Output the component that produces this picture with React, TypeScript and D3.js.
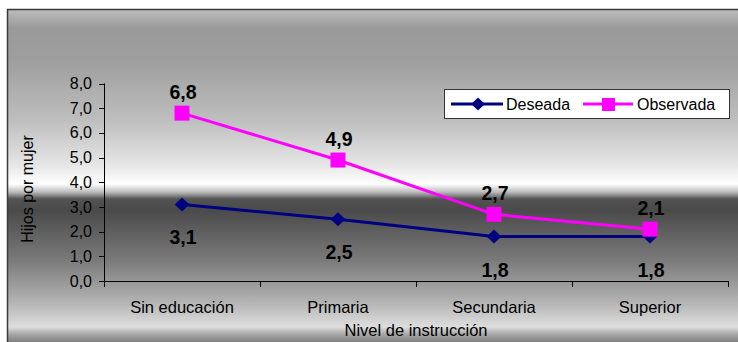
import React from "react";
import * as d3 from "d3";

const categories = ["Sin educación", "Primaria", "Secundaria", "Superior"];
const deseada = [3.1, 2.5, 1.8, 1.8];
const observada = [6.8, 4.9, 2.7, 2.1];
const yTicks = [0, 1, 2, 3, 4, 5, 6, 7, 8];

const W = 738;
const H = 342;
const FONT = "Arial, 'Liberation Sans', sans-serif";

// vertical metallic background: [offset in px from top of page, color]
const bgStops: [number, string][] = [
  [10, "#bcbcbc"],
  [28, "#9a9a9a"],
  [60, "#9e9e9e"],
  [120, "#bebebe"],
  [165, "#e6e6e6"],
  [184, "#ffffff"],
  [192, "#bcbcbc"],
  [199, "#535353"],
  [210, "#4a4a4a"],
  [260, "#7a7a7a"],
  [300, "#b0b0b0"],
  [327, "#dedede"],
  [334, "#a8a8a8"],
  [342, "#808080"],
];

export default function App() {
  const x = d3.scaleBand<string>().domain(categories).range([104, 728]);
  const y = d3.scaleLinear().domain([0, 8]).range([281, 83.5]);
  const cx = (c: string) => (x(c) as number) + x.bandwidth() / 2;

  const line = d3
    .line<number>()
    .x((_, i) => cx(categories[i]))
    .y((d) => y(d));

  const fmt = (v: number) => v.toFixed(1).replace(".", ",");
  const bgTop = 10;
  const bgH = H - bgTop;

  const diamond = (px: number, py: number, s: number) =>
    `M${px},${py - s}L${px + s * 1.05},${py}L${px},${py + s}L${px - s * 1.05},${py}Z`;

  return (
    <svg
      width={W}
      height={H}
      style={{ position: "absolute", left: 0, top: 0, display: "block" }}
      fontFamily={FONT}
    >
      <defs>
        <linearGradient id="bg" x1="0" y1="0" x2="0" y2="1">
          {bgStops.map(([p, c], i) => (
            <stop key={i} offset={(p - bgTop) / bgH} stopColor={c} />
          ))}
        </linearGradient>
      </defs>
      <rect x={0} y={0} width={W} height={H} fill="#ffffff" />
      <rect x={7} y={bgTop} width={W - 7} height={bgH} fill="url(#bg)" />
      <line x1={7} x2={W} y1={9.5} y2={9.5} stroke="#3a3a3a" strokeWidth={1.5} />
      <line x1={7.5} x2={7.5} y1={9} y2={H} stroke="#3a3a3a" strokeWidth={1.5} />

      {/* y axis */}
      <line x1={104.5} x2={104.5} y1={y(8)} y2={y(0)} stroke="#000" />
      {yTicks.map((t) => (
        <g key={t}>
          <line x1={99} x2={104.5} y1={Math.round(y(t)) + 0.5} y2={Math.round(y(t)) + 0.5} stroke="#000" />
          <text x={92} y={y(t)} dy="0.35em" textAnchor="end" fontSize={16} fill="#000">
            {fmt(t)}
          </text>
        </g>
      ))}
      <text
        transform={`translate(33,189) rotate(-90)`}
        textAnchor="middle"
        fontSize={16}
        fill="#000"
      >
        Hijos por mujer
      </text>

      {/* x axis */}
      <line x1={104} x2={728} y1={Math.round(y(0)) + 0.5} y2={Math.round(y(0)) + 0.5} stroke="#000" />
      {[...categories.map((c) => x(c) as number), 728].map((t, i) => (
        <line key={i} x1={t + 0.5} x2={t + 0.5} y1={y(0)} y2={y(0) + 6} stroke="#000" />
      ))}
      {categories.map((c) => (
        <text key={c} x={cx(c)} y={313} textAnchor="middle" fontSize={16.5} fill="#000">
          {c}
        </text>
      ))}
      <text x={416} y={336} textAnchor="middle" fontSize={16.5} fill="#000">
        Nivel de instrucción
      </text>

      {/* series */}
      <path d={line(deseada) as string} fill="none" stroke="#000080" strokeWidth={3} />
      <path d={line(observada) as string} fill="none" stroke="#ff00ff" strokeWidth={3} />
      {deseada.map((v, i) => (
        <path key={i} d={diamond(cx(categories[i]), y(v), 7)} fill="#000080" />
      ))}
      {observada.map((v, i) => (
        <rect
          key={i}
          x={cx(categories[i]) - 7.5}
          y={y(v) - 7.5}
          width={15}
          height={15}
          fill="#ff00ff"
        />
      ))}

      {/* value labels */}
      {observada.map((v, i) => (
        <text
          key={i}
          x={cx(categories[i]) + 1}
          y={y(v) - 14}
          textAnchor="middle"
          fontSize={19.5}
          fontWeight="bold"
          fill="#000"
        >
          {fmt(v)}
        </text>
      ))}
      {deseada.map((v, i) => (
        <text
          key={i}
          x={cx(categories[i]) + 1}
          y={y(v) + 40}
          textAnchor="middle"
          fontSize={19.5}
          fontWeight="bold"
          fill="#000"
        >
          {fmt(v)}
        </text>
      ))}

      {/* legend */}
      <g>
        <rect x={444.5} y={89.5} width={285} height={29} fill="#fff" stroke="#333" strokeWidth={1} />
        <line x1={451} x2={503} y1={104} y2={104} stroke="#000080" strokeWidth={3} />
        <path d={diamond(478, 104, 6.5)} fill="#000080" />
        <text x={506} y={104} dy="0.36em" fontSize={16} fill="#000">
          Deseada
        </text>
        <line x1={583} x2={633} y1={104} y2={104} stroke="#ff00ff" strokeWidth={3} />
        <rect x={602} y={98} width={13} height={13} fill="#ff00ff" />
        <text x={637} y={104} dy="0.36em" fontSize={16} fill="#000">
          Observada
        </text>
      </g>
    </svg>
  );
}
